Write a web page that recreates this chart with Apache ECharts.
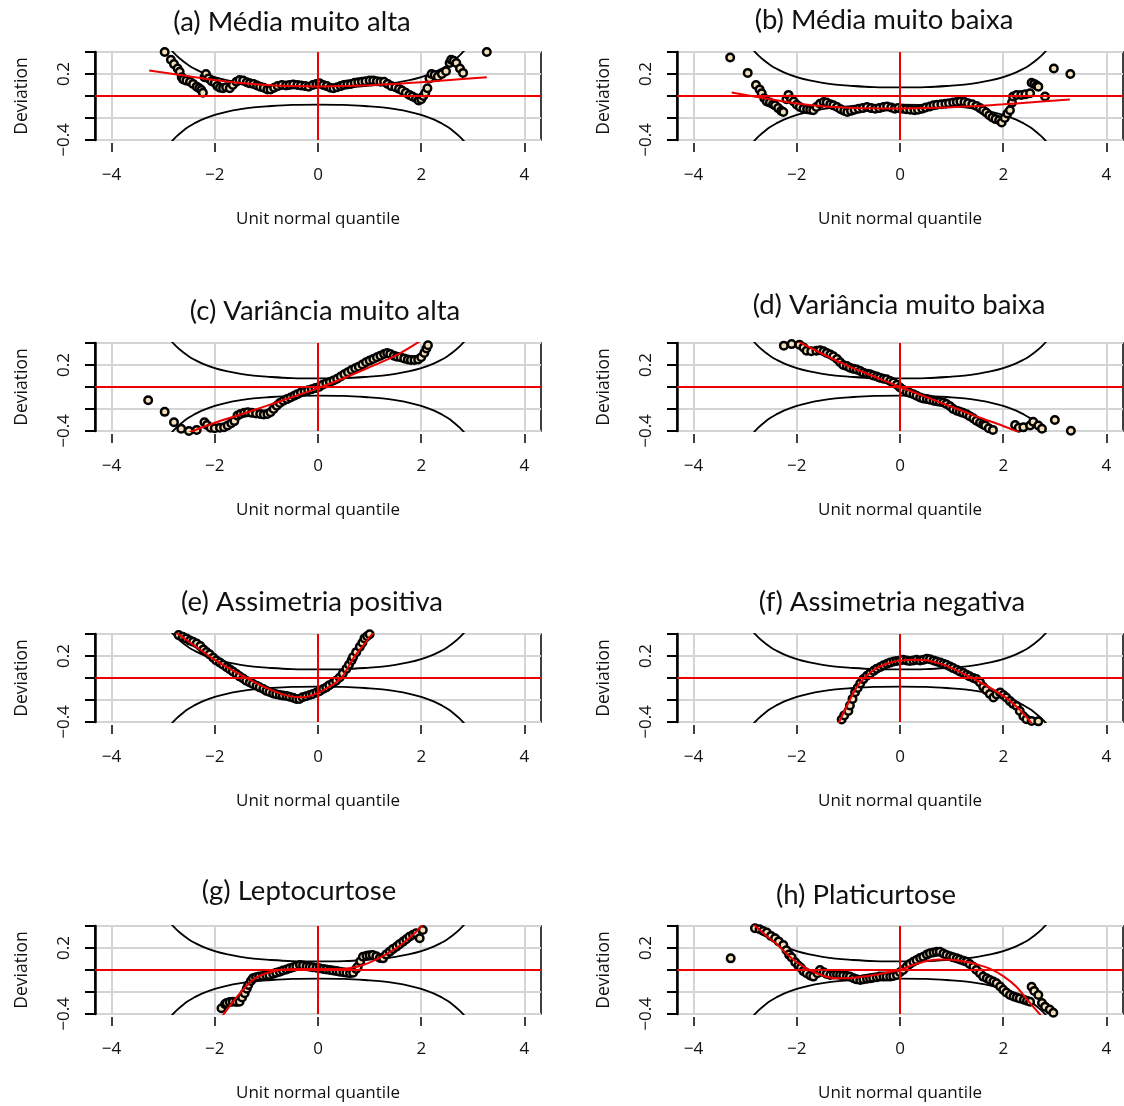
<!DOCTYPE html>
<html>
<head>
<meta charset="utf-8">
<script src="https://cdn.jsdelivr.net/npm/echarts@6/dist/echarts.min.js"></script>
<style>
html,body{margin:0;padding:0;background:#fff;}
#chart{width:1124px;height:1106px;}
</style>
</head>
<body>
<div id="chart"></div>
<script>
// ---------------- DATA ----------------
const panelTitles = [
  '(a) Média muito alta', '(b) Média muito baixa',
  '(c) Variância muito alta', '(d) Variância muito baixa',
  '(e) Assimetria positiva', '(f) Assimetria negativa',
  '(g) Leptocurtose', '(h) Platicurtose'
];
const xAxisTitle = 'Unit normal quantile';
const yAxisTitle = 'Deviation';
const xTickValues = [-4, -2, 0, 2, 4];
const xTickLabels = ['\u22124', '\u22122', '0', '2', '4'];
const yTickValues = [-0.4, -0.2, 0, 0.2, 0.4];
const yTickLabels = ['\u22120.4', '', '', '0.2', ''];

// confidence band (same in every panel)
const bandZ = [-3.0,-2.9,-2.75,-2.6,-2.5,-2.4,-2.25,-2.0,-1.75,-1.5,-1.25,-1.0,-0.5,0,0.5,1.0,1.25,1.5,1.75,2.0,2.25,2.4,2.5,2.6,2.75,2.9,3.0];
const bandUpper = [0.514,0.449,0.372,0.311,0.278,0.250,0.215,0.171,0.141,0.120,0.104,0.094,0.081,0.078,0.081,0.094,0.104,0.120,0.141,0.171,0.215,0.250,0.278,0.311,0.372,0.449,0.514];
const bandLower = [-0.514,-0.449,-0.372,-0.311,-0.278,-0.250,-0.215,-0.171,-0.141,-0.120,-0.104,-0.094,-0.081,-0.078,-0.081,-0.094,-0.104,-0.120,-0.141,-0.171,-0.215,-0.250,-0.278,-0.311,-0.372,-0.449,-0.514];

// worm points [unit normal quantile, deviation]
const wormA = [[-2.97,0.40],[-2.85,0.33],[-2.79,0.29],[-2.72,0.25],[-2.68,0.22],[-2.64,0.17],[-2.61,0.15],[-2.55,0.14],[-2.48,0.13],[-2.42,0.11],[-2.35,0.085],[-2.3,0.07],[-2.26,0.055],[-2.23,0.03],[-2.2,0.17],[-2.17,0.2],[-2.12,0.16],[-2.06,0.135],[-2.0,0.12],[-1.95,0.09],[-1.9,0.075],[-1.84,0.07],[-1.78,0.08],[-1.71,0.07],[-1.65,0.1],[-1.58,0.13],[-1.52,0.145],[-1.45,0.14],[-1.38,0.125],[-1.32,0.115],[-1.25,0.11],[-1.18,0.095],[-1.12,0.085],[-1.05,0.075],[-0.98,0.06],[-0.92,0.06],[-0.85,0.075],[-0.78,0.09],[-0.7,0.1],[-0.62,0.095],[-0.55,0.1],[-0.48,0.105],[-0.4,0.1],[-0.33,0.095],[-0.25,0.09],[-0.18,0.085],[-0.1,0.1],[-0.03,0.11],[0.03,0.115],[0.1,0.1],[0.17,0.09],[0.24,0.075],[0.3,0.07],[0.37,0.08],[0.44,0.09],[0.5,0.1],[0.57,0.105],[0.64,0.11],[0.71,0.12],[0.78,0.125],[0.85,0.13],[0.92,0.135],[1.0,0.14],[1.07,0.14],[1.14,0.135],[1.21,0.13],[1.28,0.13],[1.35,0.11],[1.42,0.09],[1.5,0.08],[1.57,0.065],[1.63,0.05],[1.7,0.03],[1.77,0.01],[1.83,-0.005],[1.9,-0.02],[1.95,-0.04],[2.0,-0.03],[2.04,0.0],[2.08,0.03],[2.12,0.07],[2.16,0.16],[2.2,0.2],[2.26,0.19],[2.32,0.175],[2.4,0.2],[2.48,0.225],[2.55,0.3],[2.58,0.33],[2.63,0.32],[2.68,0.3],[2.75,0.25],[2.81,0.21],[3.27,0.40]];
const wormB = [[-3.29,0.35],[-2.95,0.21],[-2.79,0.1],[-2.72,0.06],[-2.68,0.025],[-2.63,-0.02],[-2.58,-0.05],[-2.52,-0.06],[-2.46,-0.075],[-2.42,-0.085],[-2.36,-0.11],[-2.3,-0.135],[-2.26,-0.145],[-2.2,-0.03],[-2.16,0.01],[-2.11,-0.03],[-2.06,-0.05],[-2.0,-0.08],[-1.94,-0.1],[-1.87,-0.115],[-1.8,-0.12],[-1.74,-0.125],[-1.68,-0.13],[-1.62,-0.1],[-1.55,-0.07],[-1.48,-0.055],[-1.42,-0.06],[-1.35,-0.075],[-1.29,-0.085],[-1.22,-0.1],[-1.15,-0.12],[-1.08,-0.135],[-1.02,-0.145],[-0.95,-0.135],[-0.88,-0.125],[-0.8,-0.115],[-0.72,-0.11],[-0.64,-0.1],[-0.56,-0.11],[-0.48,-0.115],[-0.4,-0.11],[-0.32,-0.1],[-0.25,-0.095],[-0.17,-0.105],[-0.1,-0.115],[-0.03,-0.11],[0.05,-0.115],[0.12,-0.12],[0.2,-0.125],[0.28,-0.13],[0.35,-0.125],[0.43,-0.115],[0.5,-0.105],[0.58,-0.095],[0.65,-0.085],[0.72,-0.08],[0.8,-0.075],[0.88,-0.07],[0.95,-0.065],[1.03,-0.06],[1.1,-0.055],[1.17,-0.05],[1.25,-0.055],[1.32,-0.065],[1.4,-0.075],[1.48,-0.09],[1.55,-0.11],[1.61,-0.13],[1.67,-0.15],[1.73,-0.175],[1.79,-0.195],[1.85,-0.21],[1.92,-0.22],[1.97,-0.24],[2.03,-0.2],[2.08,-0.16],[2.13,-0.13],[2.17,-0.06],[2.19,-0.005],[2.26,0.01],[2.35,0.01],[2.43,0.015],[2.52,0.025],[2.55,0.12],[2.6,0.11],[2.65,0.095],[2.68,0.085],[2.81,-0.005],[2.98,0.25],[3.3,0.2]];
const wormC = [[-3.29,-0.12],[-2.97,-0.226],[-2.79,-0.32],[-2.65,-0.38],[-2.5,-0.40],[-2.35,-0.39],[-2.2,-0.32],[-2.15,-0.345],[-2.08,-0.37],[-2.0,-0.375],[-1.9,-0.37],[-1.82,-0.365],[-1.75,-0.35],[-1.68,-0.33],[-1.62,-0.31],[-1.56,-0.26],[-1.5,-0.245],[-1.43,-0.235],[-1.36,-0.23],[-1.28,-0.235],[-1.2,-0.24],[-1.12,-0.245],[-1.05,-0.25],[-0.98,-0.245],[-0.92,-0.23],[-0.86,-0.2],[-0.8,-0.17],[-0.74,-0.145],[-0.67,-0.125],[-0.6,-0.11],[-0.53,-0.095],[-0.46,-0.08],[-0.4,-0.065],[-0.33,-0.05],[-0.26,-0.04],[-0.19,-0.03],[-0.12,-0.02],[-0.05,-0.01],[0.02,0.0],[0.09,0.02],[0.16,0.033],[0.23,0.045],[0.3,0.06],[0.37,0.075],[0.44,0.095],[0.51,0.115],[0.58,0.135],[0.65,0.155],[0.72,0.17],[0.79,0.185],[0.86,0.205],[0.93,0.225],[1.0,0.24],[1.07,0.255],[1.14,0.27],[1.21,0.285],[1.28,0.3],[1.34,0.31],[1.4,0.3],[1.47,0.285],[1.53,0.275],[1.6,0.27],[1.67,0.26],[1.74,0.25],[1.8,0.245],[1.87,0.245],[1.94,0.25],[2.0,0.27],[2.06,0.31],[2.1,0.35],[2.13,0.38]];
const wormD = [[-2.25,0.376],[-2.1,0.39],[-1.95,0.385],[-1.87,0.36],[-1.81,0.33],[-1.72,0.325],[-1.62,0.33],[-1.55,0.335],[-1.48,0.325],[-1.42,0.31],[-1.35,0.295],[-1.29,0.28],[-1.22,0.255],[-1.16,0.225],[-1.1,0.2],[-1.03,0.19],[-0.97,0.175],[-0.9,0.165],[-0.84,0.16],[-0.77,0.145],[-0.71,0.13],[-0.64,0.12],[-0.58,0.115],[-0.52,0.105],[-0.45,0.095],[-0.39,0.085],[-0.32,0.075],[-0.26,0.07],[-0.19,0.055],[-0.13,0.04],[-0.06,0.02],[0.0,-0.005],[0.06,-0.025],[0.13,-0.045],[0.19,-0.055],[0.26,-0.066],[0.32,-0.08],[0.39,-0.095],[0.45,-0.105],[0.52,-0.11],[0.58,-0.115],[0.65,-0.125],[0.71,-0.13],[0.77,-0.135],[0.84,-0.14],[0.9,-0.155],[0.97,-0.175],[1.03,-0.2],[1.1,-0.215],[1.16,-0.225],[1.22,-0.235],[1.29,-0.247],[1.35,-0.265],[1.42,-0.285],[1.48,-0.307],[1.55,-0.325],[1.61,-0.34],[1.65,-0.35],[1.72,-0.375],[1.8,-0.39],[2.23,-0.346],[2.3,-0.37],[2.39,-0.367],[2.52,-0.35],[2.58,-0.316],[2.68,-0.35],[2.75,-0.38],[3.0,-0.3],[3.31,-0.397]];
const wormE = [[-2.77,0.41],[-2.7,0.39],[-2.62,0.375],[-2.55,0.36],[-2.48,0.34],[-2.42,0.33],[-2.35,0.314],[-2.28,0.29],[-2.22,0.26],[-2.16,0.237],[-2.1,0.215],[-2.03,0.185],[-1.97,0.16],[-1.9,0.14],[-1.84,0.12],[-1.77,0.098],[-1.71,0.08],[-1.65,0.06],[-1.58,0.037],[-1.52,0.015],[-1.45,-0.005],[-1.39,-0.025],[-1.32,-0.04],[-1.26,-0.055],[-1.19,-0.07],[-1.13,-0.085],[-1.06,-0.1],[-1.0,-0.117],[-0.94,-0.128],[-0.87,-0.14],[-0.81,-0.148],[-0.74,-0.155],[-0.68,-0.16],[-0.61,-0.163],[-0.55,-0.17],[-0.48,-0.18],[-0.42,-0.19],[-0.36,-0.19],[-0.3,-0.175],[-0.23,-0.165],[-0.16,-0.155],[-0.1,-0.145],[-0.03,-0.132],[0.03,-0.12],[0.1,-0.1],[0.16,-0.086],[0.22,-0.065],[0.29,-0.045],[0.35,-0.025],[0.42,0.005],[0.48,0.04],[0.55,0.083],[0.6,0.12],[0.65,0.16],[0.68,0.19],[0.74,0.235],[0.81,0.283],[0.86,0.32],[0.9,0.36],[0.95,0.38],[1.0,0.397]];
const wormF = [[-1.13,-0.378],[-1.08,-0.34],[-1.0,-0.3],[-0.97,-0.25],[-0.92,-0.19],[-0.87,-0.13],[-0.82,-0.09],[-0.77,-0.05],[-0.71,-0.01],[-0.64,0.02],[-0.58,0.04],[-0.51,0.065],[-0.45,0.085],[-0.38,0.1],[-0.32,0.115],[-0.25,0.13],[-0.19,0.14],[-0.12,0.15],[-0.06,0.155],[0.0,0.16],[0.06,0.165],[0.13,0.16],[0.19,0.155],[0.26,0.16],[0.32,0.165],[0.39,0.16],[0.45,0.165],[0.52,0.175],[0.58,0.17],[0.65,0.16],[0.71,0.15],[0.78,0.14],[0.84,0.13],[0.9,0.12],[0.97,0.105],[1.03,0.09],[1.1,0.075],[1.16,0.06],[1.23,0.045],[1.29,0.03],[1.35,0.015],[1.42,0.0],[1.48,-0.01],[1.55,-0.04],[1.61,-0.08],[1.67,-0.11],[1.74,-0.145],[1.81,-0.178],[1.87,-0.15],[1.94,-0.132],[2.0,-0.155],[2.06,-0.178],[2.13,-0.21],[2.19,-0.235],[2.26,-0.255],[2.32,-0.3],[2.39,-0.348],[2.45,-0.375],[2.55,-0.39],[2.68,-0.394]];
const wormG = [[-1.87,-0.348],[-1.8,-0.31],[-1.77,-0.3],[-1.71,-0.29],[-1.65,-0.288],[-1.58,-0.29],[-1.52,-0.288],[-1.47,-0.25],[-1.42,-0.212],[-1.38,-0.17],[-1.35,-0.136],[-1.3,-0.1],[-1.26,-0.076],[-1.2,-0.065],[-1.14,-0.06],[-1.07,-0.055],[-1.0,-0.05],[-0.94,-0.045],[-0.87,-0.035],[-0.81,-0.025],[-0.74,-0.015],[-0.68,-0.005],[-0.61,0.005],[-0.55,0.015],[-0.48,0.025],[-0.42,0.035],[-0.35,0.045],[-0.29,0.04],[-0.22,0.035],[-0.16,0.03],[-0.1,0.025],[-0.03,0.02],[0.03,0.015],[0.1,0.01],[0.16,0.005],[0.23,0.0],[0.29,-0.005],[0.36,-0.01],[0.42,-0.015],[0.49,-0.02],[0.55,-0.025],[0.62,-0.03],[0.68,-0.025],[0.74,0.01],[0.77,0.03],[0.82,0.08],[0.87,0.121],[0.94,0.13],[1.0,0.135],[1.06,0.136],[1.13,0.125],[1.2,0.11],[1.26,0.106],[1.32,0.14],[1.39,0.167],[1.45,0.19],[1.52,0.212],[1.58,0.235],[1.65,0.258],[1.71,0.28],[1.77,0.303],[1.84,0.32],[1.9,0.333],[1.97,0.288],[2.03,0.364]];
const wormH = [[-3.28,0.106],[-2.81,0.379],[-2.72,0.37],[-2.65,0.355],[-2.58,0.34],[-2.5,0.31],[-2.42,0.288],[-2.35,0.26],[-2.26,0.227],[-2.2,0.18],[-2.15,0.14],[-2.1,0.115],[-2.03,0.07],[-1.97,0.04],[-1.92,0.02],[-1.87,-0.01],[-1.81,-0.03],[-1.74,-0.05],[-1.68,-0.06],[-1.6,-0.03],[-1.55,0.0],[-1.48,-0.02],[-1.42,-0.035],[-1.35,-0.045],[-1.28,-0.04],[-1.22,-0.04],[-1.16,-0.045],[-1.1,-0.05],[-1.03,-0.055],[-0.97,-0.06],[-0.9,-0.075],[-0.84,-0.085],[-0.77,-0.09],[-0.71,-0.085],[-0.64,-0.08],[-0.58,-0.076],[-0.52,-0.07],[-0.45,-0.065],[-0.39,-0.06],[-0.32,-0.06],[-0.26,-0.06],[-0.19,-0.06],[-0.13,-0.055],[-0.06,-0.045],[0.0,-0.02],[0.06,0.0],[0.13,0.03],[0.19,0.055],[0.26,0.076],[0.32,0.09],[0.39,0.11],[0.45,0.121],[0.52,0.14],[0.58,0.152],[0.65,0.16],[0.71,0.165],[0.77,0.167],[0.84,0.15],[0.9,0.136],[0.97,0.125],[1.03,0.115],[1.1,0.106],[1.16,0.095],[1.23,0.085],[1.29,0.076],[1.35,0.055],[1.42,0.03],[1.48,0.0],[1.55,-0.03],[1.61,-0.06],[1.68,-0.075],[1.74,-0.09],[1.81,-0.105],[1.87,-0.12],[1.94,-0.15],[2.0,-0.18],[2.06,-0.205],[2.13,-0.227],[2.2,-0.24],[2.26,-0.25],[2.32,-0.258],[2.4,-0.27],[2.46,-0.28],[2.52,-0.288],[2.55,-0.152],[2.6,-0.19],[2.68,-0.227],[2.75,-0.3],[2.81,-0.333],[2.9,-0.36],[2.97,-0.388]];

// fitted (red) curves [quantile, deviation]
const fitA = [[-3.27,0.232],[-2.5,0.18],[-2,0.145],[-1.5,0.118],[-1,0.1],[-0.5,0.09],[0,0.087],[0.5,0.09],[1,0.098],[1.5,0.11],[2,0.124],[2.5,0.143],[3.27,0.171]];
const fitB = [[-3.26,0.031],[-2.5,-0.03],[-2,-0.068],[-1.5,-0.093],[-1,-0.106],[-0.5,-0.112],[0,-0.113],[0.5,-0.11],[1,-0.102],[1.5,-0.09],[2,-0.076],[2.5,-0.058],[3.29,-0.031]];
const fitC = [[-2.6,-0.44],[-2.42,-0.40],[-2,-0.325],[-1.5,-0.25],[-1,-0.172],[-0.5,-0.092],[0,-0.01],[0.5,0.08],[1,0.18],[1.5,0.285],[1.94,0.406],[2.05,0.44]];
const fitD = [[-2.1,0.45],[-1.94,0.406],[-1.5,0.3],[-1,0.19],[-0.5,0.095],[0,0.0],[0.5,-0.09],[1,-0.18],[1.5,-0.27],[2.0,-0.355],[2.23,-0.397],[2.4,-0.44]];
const fitE = [[-2.8,0.43],[-2.5,0.33],[-2,0.165],[-1.5,0.03],[-1,-0.09],[-0.6,-0.16],[-0.3,-0.175],[0,-0.135],[0.25,-0.07],[0.45,0.0],[0.7,0.19],[0.9,0.31],[1.1,0.43]];
const fitF = [[-1.25,-0.47],[-1.19,-0.41],[-1.03,-0.255],[-0.9,-0.135],[-0.77,-0.04],[-0.52,0.07],[-0.26,0.13],[0,0.158],[0.39,0.165],[0.75,0.135],[1.0,0.089],[1.5,-0.025],[2.0,-0.163],[2.3,-0.28],[2.55,-0.41],[2.62,-0.45]];
const fitG = [[-1.9,-0.45],[-1.84,-0.41],[-1.58,-0.25],[-1.26,-0.09],[-0.94,-0.02],[-0.48,0.008],[0,0.008],[0.48,0.01],[0.87,0.045],[1.19,0.11],[1.52,0.2],[1.77,0.29],[2.0,0.394],[2.05,0.43]];
const fitH = [[-2.85,0.42],[-2.6,0.315],[-2.4,0.24],[-2.2,0.15],[-2.0,0.07],[-1.75,0.0],[-1.5,-0.05],[-1.25,-0.075],[-1.0,-0.075],[-0.75,-0.062],[-0.5,-0.045],[-0.25,-0.022],[0,0.0],[0.25,0.045],[0.5,0.08],[0.75,0.096],[1.0,0.093],[1.25,0.078],[1.5,0.05],[1.75,0.01],[2.0,-0.055],[2.25,-0.15],[2.5,-0.29],[2.71,-0.403],[2.8,-0.46]];

const worms = [wormA, wormB, wormC, wormD, wormE, wormF, wormG, wormH];
const fits = [fitA, fitB, fitC, fitD, fitE, fitF, fitG, fitH];

// ---------------- LAYOUT / STYLE ----------------
const gridLefts = [95, 677];
const gridTops = [52, 343, 634, 926];
const gridW = 446, gridH = 88;
const titlePos = [[292,22],[884,20],[325,311],[899,305],[312,602],[892,602],[299,891],[866,895]];
const FONT = '"Open Sans", "Noto Sans", sans-serif';

const grids = [], xAxes = [], yAxes = [], series = [], graphics = [];
const bandUpperData = bandZ.map((z, i) => [z, bandUpper[i]]);
const bandLowerData = bandZ.map((z, i) => [z, bandLower[i]]);

for (let p = 0; p < 8; p++) {
  const col = p % 2, row = Math.floor(p / 2);
  grids.push({
    left: gridLefts[col], top: gridTops[row], width: gridW, height: gridH,
    show: true, borderColor: '#000', borderWidth: 1.5, backgroundColor: 'transparent'
  });
  xAxes.push({
    gridIndex: p, type: 'value', min: -4.32, max: 4.32, offset: 3,
    axisLine: { show: false, onZero: false },
    axisTick: { show: true, customValues: xTickValues, length: 9, lineStyle: { color: '#000', width: 1.5 } },
    axisLabel: {
      customValues: xTickValues, margin: 24, fontSize: 17, color: '#111', fontFamily: FONT,
      formatter: v => { const i = xTickValues.findIndex(t => Math.abs(t - v) < 1e-9); return i >= 0 ? xTickLabels[i] : ''; }
    },
    splitLine: { show: true, lineStyle: { color: '#d4d4d4', width: 2 } },
    name: xAxisTitle, nameLocation: 'middle', nameGap: 68,
    nameTextStyle: { fontSize: 17, color: '#111', fontFamily: FONT }
  });
  yAxes.push({
    gridIndex: p, type: 'value', min: -0.4, max: 0.4, interval: 0.2,
    axisLine: { show: true, onZero: false, lineStyle: { color: '#000', width: 2.5 } },
    axisTick: { show: true, length: 10, lineStyle: { color: '#000', width: 2 } },
    axisLabel: {
      rotate: 90, margin: 22, fontSize: 17, color: '#111', fontFamily: FONT,
      formatter: v => { const i = yTickValues.findIndex(t => Math.abs(t - v) < 1e-9); return i >= 0 ? yTickLabels[i] : ''; }
    },
    splitLine: { show: true, lineStyle: { color: '#d4d4d4', width: 2 } },
    name: yAxisTitle, nameLocation: 'middle', nameGap: 64, nameRotate: 90,
    nameTextStyle: { fontSize: 17.5, color: '#111', fontFamily: FONT }
  });
  series.push({
    type: 'line', xAxisIndex: p, yAxisIndex: p, data: bandUpperData, smooth: 0.4,
    showSymbol: false, clip: true, z: 2, silent: true,
    lineStyle: { color: '#000', width: 1.8 }
  });
  series.push({
    type: 'line', xAxisIndex: p, yAxisIndex: p, data: bandLowerData, smooth: 0.4,
    showSymbol: false, clip: true, z: 2, silent: true,
    lineStyle: { color: '#000', width: 1.8 }
  });
  series.push({
    type: 'scatter', xAxisIndex: p, yAxisIndex: p, data: worms[p], clip: true, z: 3,
    symbol: 'circle', symbolSize: 7.5,
    itemStyle: { color: '#f3dfb8', borderColor: '#000', borderWidth: 2.5, opacity: 1 }
  });
  series.push({
    type: 'line', xAxisIndex: p, yAxisIndex: p, data: fits[p], smooth: 0.35,
    showSymbol: false, clip: true, z: 5, silent: true,
    lineStyle: { color: '#ee0000', width: 2 },
    markLine: {
      silent: true, symbol: 'none', animation: false,
      label: { show: false },
      lineStyle: { color: '#ee0000', width: 2, type: 'solid' },
      data: [{ yAxis: 0 }, { xAxis: 0 }]
    }
  });
  graphics.push({
    type: 'text', left: titlePos[p][0], top: titlePos[p][1],
    style: { text: panelTitles[p], fontSize: 27.5, fontFamily: 'Lato, "Open Sans", sans-serif', fill: '#111',
             textAlign: 'center', textVerticalAlign: 'middle' }
  });
}

const chart = echarts.init(document.getElementById('chart'), null, { renderer: 'canvas' });
chart.setOption({
  animation: false,
  backgroundColor: '#fff',
  grid: grids, xAxis: xAxes, yAxis: yAxes, series: series,
  graphic: graphics.map(g => ({ type: 'text', x: g.left, y: g.top, style: g.style, z: 10 }))
});
</script>
</body>
</html>
